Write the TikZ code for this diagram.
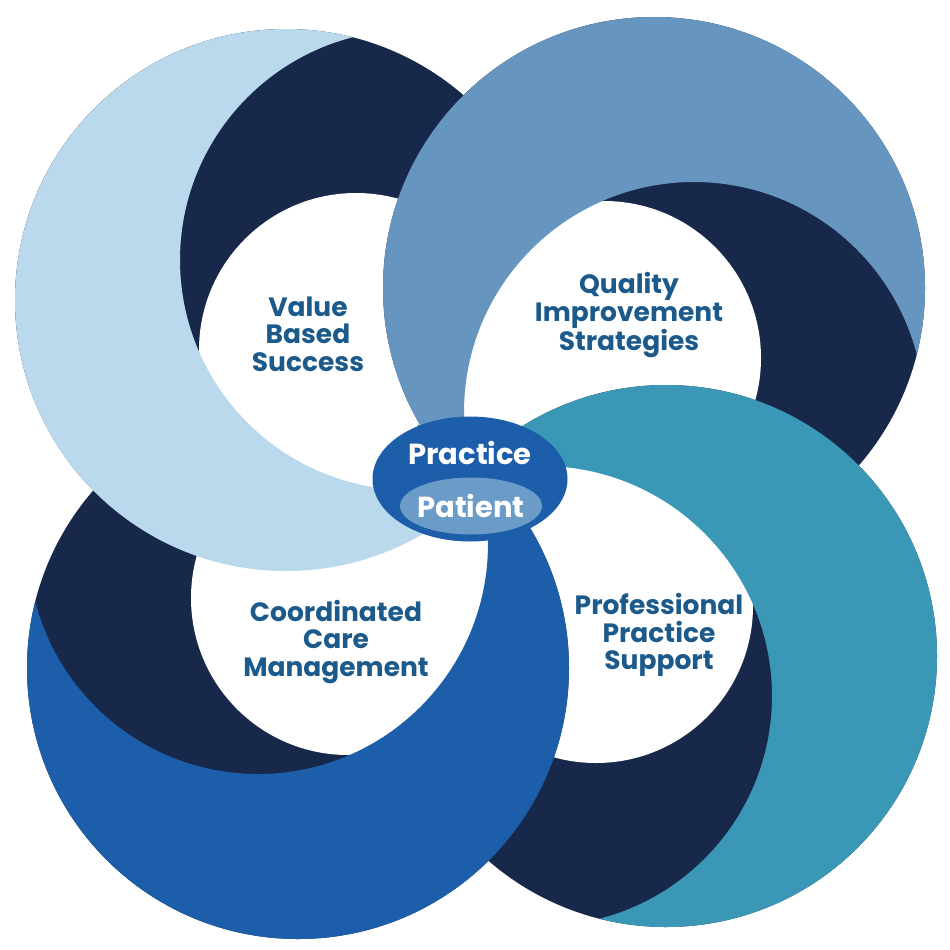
\documentclass[tikz,border=0pt]{standalone}
\usepackage{fontspec}
\setmainfont{Poppins}
\usetikzlibrary{shapes.geometric}
\definecolor{navy}{HTML}{17284A}
\definecolor{paleblue}{HTML}{BAD9EC}
\definecolor{steelblue}{HTML}{6695BF}
\definecolor{tealblue}{HTML}{3A98B6}
\definecolor{royalblue}{HTML}{1C5EAA}
\definecolor{labelblue}{HTML}{1B5A8A}
\definecolor{patientblue}{HTML}{6B9CC8}

\begin{document}
\begin{tikzpicture}[x=1pt, y=-1pt,
  topic/.style={align=center, text=labelblue, inner sep=0pt,
    font=\fontsize{26.5}{27.5}\selectfont\bfseries},
  hubtext/.style={text=white, inner sep=0pt,
    font=\fontsize{29}{30}\selectfont\bfseries}]
  \useasboundingbox (0,0) rectangle (950,950);
  % Value Based Success ring (top left)
  \fill[navy] (286,300) circle[radius=271pt];
  \fill[white] (356,350) circle[radius=157pt];
  \begin{scope}
    \clip (286,300) circle[radius=271pt];
    \fill[paleblue, even odd rule] (0,0) rectangle (950,950) (410,260) circle[radius=230pt];
  \end{scope}
  % Quality Improvement Strategies ring (top right)
  \fill[navy] (654,288) circle[radius=271pt];
  \fill[white] (604,358) circle[radius=157pt];
  \begin{scope}
    \clip (654,288) circle[radius=271pt];
    \fill[steelblue, even odd rule] (0,0) rectangle (950,950) (694,412) circle[radius=230pt];
  \end{scope}
  % Professional Practice Support ring (bottom right)
  \fill[navy] (666,656) circle[radius=271pt];
  \fill[white] (596,606) circle[radius=157pt];
  \begin{scope}
    \clip (666,656) circle[radius=271pt];
    \fill[tealblue, even odd rule] (0,0) rectangle (950,950) (542,696) circle[radius=230pt];
  \end{scope}
  % Coordinated Care Management ring (bottom left)
  \fill[navy] (298,668) circle[radius=271pt];
  \fill[white] (348,598) circle[radius=157pt];
  \begin{scope}
    \clip (298,668) circle[radius=271pt];
    \fill[royalblue, even odd rule] (0,0) rectangle (950,950) (258,544) circle[radius=230pt];
  \end{scope}
  % top left ring again, lower part only, so it lies over the bottom left one
  \begin{scope}
    \clip (0,390) -- (400,390) -- (420,430) -- (445,470) -- (445,620) -- (0,620) -- cycle;
    \fill[white] (356,350) circle[radius=157pt];
    \clip (286,300) circle[radius=271pt];
    \fill[paleblue, even odd rule] (0,0) rectangle (950,950) (410,260) circle[radius=230pt];
  \end{scope}
  % Labels
  \node[topic] (value) at (308,334) {Value\\Based\\Success};
  \node[topic] (quality) at (629,315) {Quality\\Improvement\\Strategies};
  \node[topic] (coord) at (336,642) {Coordinated\\Care\\Management};
  \node[topic] (prof) at (659,635) {Professional\\Practice\\Support};
  % Practice / Patient hub
  \node[ellipse, fill=royalblue, minimum width=195pt, minimum height=125pt, inner sep=0pt] (hub) at (470,479) {};
  \node[hubtext] (practice) at (470,453) {Practice};
  \node[ellipse, fill=patientblue, minimum width=142pt, minimum height=57pt, inner sep=0pt] (patient) at (471,506) {};
  \node[hubtext] (patienttext) at (patient) {Patient};
\end{tikzpicture}
\end{document}
